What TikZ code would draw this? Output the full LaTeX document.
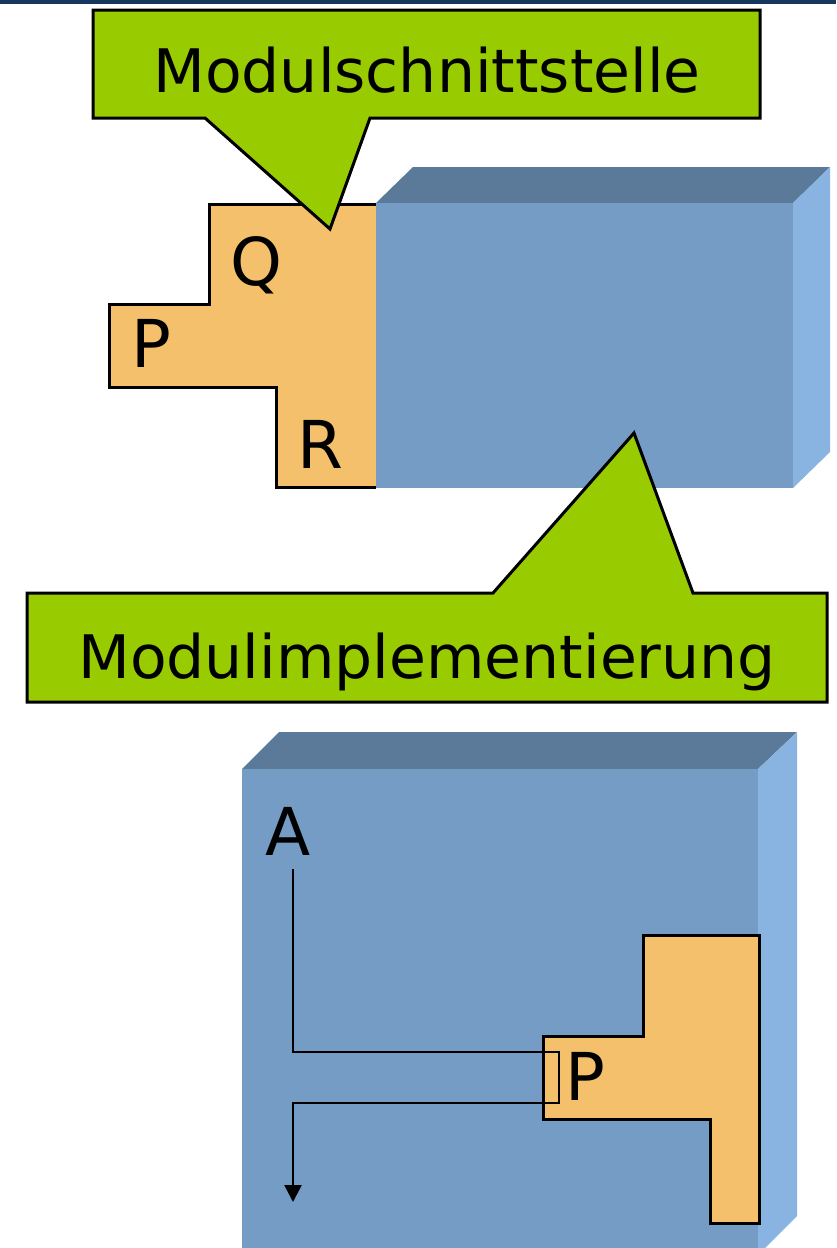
\documentclass[tikz,border=0pt]{standalone}
\usepackage{fontspec}
\setmainfont{DejaVu Sans}
\usetikzlibrary{arrows.meta}
\definecolor{calloutGreen}{RGB}{153,204,0}
\definecolor{portOrange}{RGB}{245,192,108}
\definecolor{boxFront}{RGB}{117,156,197}
\definecolor{boxTop}{RGB}{91,122,153}
\definecolor{boxSide}{RGB}{137,179,224}
\definecolor{barNavy}{RGB}{23,55,94}

\begin{document}
\begin{tikzpicture}[x=1pt,y=-1pt,>={Triangle[width=17pt,length=17pt]},line join=miter]
  \tikzstyle{callout}=[fill=calloutGreen,draw=black,line width=3pt]
  \tikzstyle{port}=[fill=portOrange,draw=black,line width=3pt]
  \tikzstyle{calltext}=[inner sep=0pt,anchor=base,font=\fontsize{60}{72}\selectfont]
  \tikzstyle{letter}=[inner sep=0pt,anchor=base,font=\fontsize{66}{80}\selectfont]
  \tikzstyle{flow}=[draw=black,line width=2.5pt]

  \useasboundingbox (0,0) rectangle (836,1248);
  \fill[barNavy] (0,0) rectangle (836,4);

  % interface of the module (open on the side of the block)
  \filldraw[port] (376,204) -- (209,204) -- (209,304) -- (109,304) -- (109,387)
    -- (276,387) -- (276,487) -- (376,487);
  \node[letter] (portQ) at (256,285) {Q};
  \node[letter] (portP) at (151,367) {P};
  \node[letter] (portR) at (320,468) {R};

  % implementation block
  \fill[boxTop] (376,203) -- (413,167) -- (830,167) -- (793,203) -- cycle;
  \fill[boxSide] (793,203) -- (830,167) -- (830,452) -- (793,488) -- cycle;
  \fill[boxFront] (376,203) rectangle (793,488);

  % callouts
  \filldraw[callout] (93,10) -- (760,10) -- (760,118) -- (370,118) -- (330,229)
    -- (205,118) -- (93,118) -- cycle;
  \node[calltext] (iface) at (427,92) {Modulschnittstelle};
  \filldraw[callout] (27,593) -- (493,593) -- (634,433) -- (693,593) -- (827,593)
    -- (827,702) -- (27,702) -- cycle;
  \node[calltext] (impl) at (427,678) {Modulimplementierung};

  % module in use
  \fill[boxTop] (242,769) -- (279,732) -- (797,732) -- (758,769) -- cycle;
  \fill[boxSide] (758,769) -- (797,732) -- (797,1216) -- (765,1248) -- (758,1248) -- cycle;
  \fill[boxFront] (242,769) rectangle (758,1248);
  \filldraw[port] (643,935) -- (759,935) -- (759,1223) -- (710,1223) -- (710,1119)
    -- (543,1119) -- (543,1036) -- (643,1036) -- cycle;
  \node[letter] (inP) at (585,1100) {P};
  \node[letter] (useA) at (288,855) {A};

  \coordinate (enterP) at (559,1052);
  \coordinate (leaveP) at (559,1103);
  \coordinate (flowEnd) at (293,1202);
  \draw[flow,->] ([xshift=5pt,yshift=-14pt]useA.south) |- (enterP) -- (leaveP) -| (flowEnd);
\end{tikzpicture}
\end{document}
